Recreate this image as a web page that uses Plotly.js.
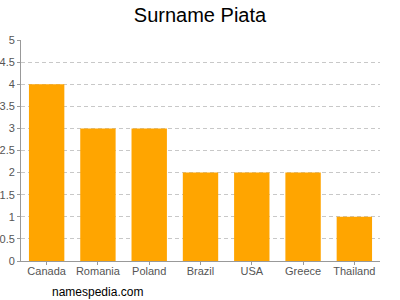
<!DOCTYPE html>
<html><head><meta charset="utf-8">
<script src="https://cdn.plot.ly/plotly-3.0.1.min.js"></script>
<style>body{margin:0;padding:0;background:#fff}#chart{width:400px;height:300px}</style>
</head><body><div id="chart"></div>
<script>
var countries = ["Canada","Romania","Poland","Brazil","USA","Greece","Thailand"];
var counts = [4,3,3,2,2,2,1];
var yTicks = [0,0.5,1,1.5,2,2.5,3,3.5,4,4.5,5];

Plotly.newPlot('chart', [{
  type: 'bar', x: countries, y: counts,
  marker: {color: '#FFA500', line: {width: 0}}, hoverinfo: 'none'
}], {
  width: 400, height: 300,
  margin: {l: 21, r: 20, t: 40, b: 39},
  paper_bgcolor: '#fff', plot_bgcolor: '#fff',
  bargap: 0.31,
  title: {text: 'Surname Piata', font: {family: 'Liberation Sans, Arial, sans-serif', size: 20, color: '#000'}, x: 0.5, xanchor: 'center', y: 0.975, yanchor: 'top'},
  font: {family: 'Liberation Sans, Arial, sans-serif', size: 11, color: '#555'},
  xaxis: {showline: true, linecolor: '#999', ticks: 'outside', ticklen: 3, tickcolor: '#999', showgrid: false, fixedrange: true, ticklabelstandoff: -3},
  yaxis: {range: [0,5], tickvals: yTicks, ticktext: yTicks.map(String), showline: true, linecolor: '#999', ticks: 'outside', ticklen: 3, tickcolor: '#999', gridcolor: '#c8c8c8', griddash: '4px,3px', zeroline: false, fixedrange: true},
  annotations: [{text: 'namespedia.com', xref: 'paper', yref: 'paper', x: 0.08, y: -0.14, xanchor: 'left', yanchor: 'middle', showarrow: false, font: {size: 12, color: '#000'}}],
  showlegend: false
}, {displayModeBar: false, staticPlot: true});
</script></body></html>
